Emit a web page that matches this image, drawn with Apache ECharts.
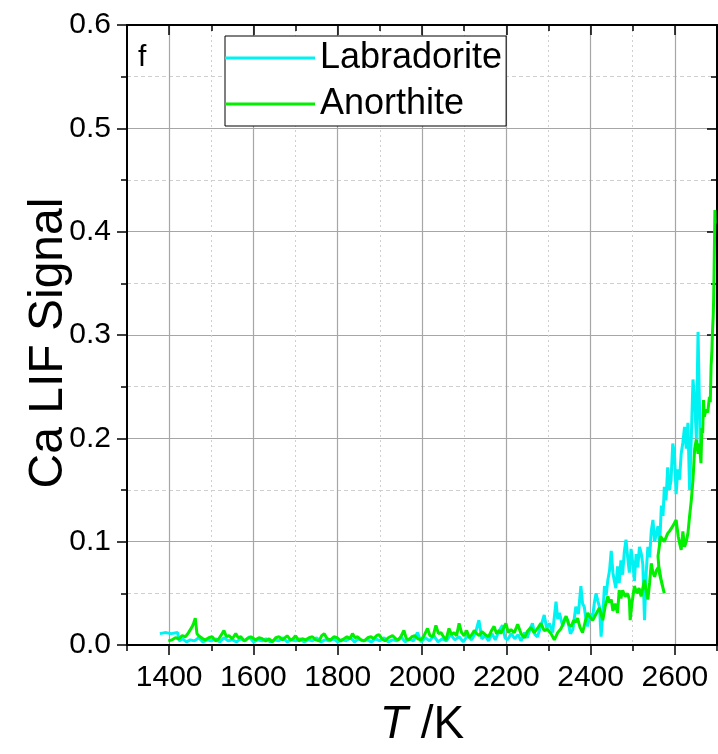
<!DOCTYPE html>
<html>
<head>
<meta charset="utf-8">
<script src="https://cdn.jsdelivr.net/npm/echarts@6/dist/echarts.min.js"></script>
<style>
  html, body { margin: 0; padding: 0; background: #fff; }
  #chart { width: 718px; height: 754px; }
</style>
</head>
<body>
<div id="chart"></div>
<script>
// Temperature grid (K) along the x axis; labelled every other tick
const xTicks = ['1300', '1400', '1500', '1600', '1700', '1800', '1900', '2000',
                '2100', '2200', '2300', '2400', '2500', '2600', '2700'];

// Ca LIF signal vs temperature, [T / K, signal]
const labradorite = [
  [1378,0.011],[1390,0.012],[1405,0.011],[1420,0.012],[1424,0.004],[1432,0.006],[1441,0.003],[1450,0.005],
  [1460,0.004],[1470,0.007],[1480,0.003],[1490,0.005],[1500,0.004],[1510,0.006],[1520,0.003],[1530,0.007],
  [1540,0.004],[1550,0.005],[1560,0.003],[1570,0.006],[1580,0.004],[1590,0.008],[1600,0.003],[1610,0.005],
  [1620,0.004],[1630,0.006],[1640,0.003],[1650,0.005],[1660,0.004],[1670,0.007],[1680,0.003],[1690,0.005],
  [1700,0.004],[1710,0.006],[1720,0.003],[1730,0.005],[1740,0.004],[1750,0.007],[1760,0.003],[1770,0.005],
  [1780,0.004],[1790,0.006],[1800,0.003],[1810,0.005],[1820,0.004],[1830,0.007],[1840,0.003],[1850,0.006],
  [1860,0.004],[1870,0.005],[1880,0.003],[1890,0.006],[1900,0.004],[1910,0.007],[1920,0.003],[1930,0.005],
  [1940,0.004],[1950,0.008],[1960,0.003],[1970,0.006],[1980,0.004],[1989,0.012],[1998,0.003],[2008,0.007],
  [2018,0.004],[2028,0.009],[2038,0.003],[2048,0.006],[2058,0.004],[2068,0.010],[2078,0.005],[2088,0.008],
  [2098,0.003],[2108,0.009],[2118,0.005],[2127,0.012],[2135,0.024],[2142,0.006],[2150,0.009],[2158,0.004],
  [2166,0.011],[2174,0.005],[2182,0.013],[2191,0.019],[2197,0.007],[2203,0.005],[2212,0.011],[2220,0.006],
  [2228,0.010],[2235,0.004],[2243,0.012],[2250,0.007],[2256,0.015],[2262,0.021],[2268,0.010],[2274,0.008],
  [2282,0.018],[2290,0.029],[2296,0.016],[2302,0.021],[2310,0.012],[2318,0.042],[2322,0.025],[2326,0.031],
  [2334,0.018],[2340,0.027],[2346,0.024],[2352,0.011],[2358,0.015],[2365,0.037],[2371,0.030],[2377,0.057],
  [2381,0.040],[2385,0.037],[2389,0.025],[2393,0.018],[2399,0.030],[2405,0.027],[2409,0.041],[2413,0.050],
  [2417,0.043],[2421,0.037],[2425,0.008],[2429,0.030],[2433,0.057],[2437,0.048],[2441,0.063],[2445,0.072],
  [2449,0.091],[2453,0.070],[2456,0.063],[2460,0.055],[2464,0.076],[2468,0.060],[2472,0.082],[2476,0.068],
  [2480,0.090],[2484,0.102],[2488,0.085],[2492,0.070],[2496,0.093],[2500,0.080],[2504,0.062],[2508,0.088],
  [2512,0.075],[2516,0.095],[2520,0.089],[2524,0.078],[2528,0.024],[2532,0.070],[2536,0.095],[2540,0.085],
  [2544,0.110],[2548,0.121],[2552,0.100],[2556,0.108],[2560,0.115],[2564,0.098],[2568,0.135],[2572,0.125],
  [2575,0.153],[2579,0.140],[2583,0.172],[2587,0.150],[2591,0.160],[2595,0.195],[2599,0.185],[2603,0.146],
  [2607,0.170],[2611,0.160],[2615,0.185],[2619,0.196],[2623,0.211],[2627,0.190],[2631,0.215],[2635,0.150],
  [2639,0.200],[2643,0.257],[2647,0.237],[2651,0.200],[2655,0.303],[2658,0.240],[2660,0.195]
];

const anorthite = [
  [1398,0.004],[1407,0.005],[1415,0.007],[1423,0.006],[1431,0.009],[1439,0.008],[1446,0.012],[1450,0.011],
  [1455,0.018],[1458,0.021],[1462,0.026],[1466,0.011],[1470,0.009],[1474,0.008],[1480,0.006],[1486,0.005],
  [1494,0.007],[1502,0.008],[1510,0.004],[1518,0.006],[1524,0.010],[1530,0.014],[1536,0.008],[1542,0.009],
  [1550,0.006],[1558,0.011],[1564,0.007],[1570,0.008],[1578,0.004],[1585,0.006],[1594,0.008],[1605,0.005],
  [1613,0.007],[1621,0.006],[1629,0.004],[1637,0.006],[1645,0.003],[1653,0.007],[1661,0.008],[1669,0.005],
  [1675,0.007],[1680,0.009],[1688,0.005],[1694,0.006],[1700,0.009],[1708,0.004],[1716,0.006],[1724,0.005],
  [1732,0.007],[1740,0.008],[1748,0.005],[1756,0.004],[1762,0.009],[1768,0.011],[1775,0.006],[1783,0.005],
  [1791,0.008],[1799,0.007],[1807,0.004],[1815,0.006],[1822,0.008],[1829,0.006],[1835,0.011],[1841,0.007],
  [1847,0.008],[1855,0.005],[1863,0.004],[1871,0.007],[1879,0.008],[1885,0.006],[1892,0.009],[1898,0.010],
  [1905,0.006],[1912,0.004],[1920,0.007],[1930,0.009],[1938,0.006],[1945,0.005],[1951,0.009],[1957,0.014],
  [1963,0.006],[1969,0.005],[1976,0.008],[1983,0.009],[1990,0.006],[1998,0.005],[2005,0.009],[2013,0.016],
  [2019,0.009],[2026,0.008],[2033,0.019],[2039,0.011],[2045,0.012],[2051,0.008],[2057,0.005],[2064,0.016],
  [2070,0.010],[2076,0.012],[2082,0.009],[2088,0.021],[2094,0.012],[2100,0.009],[2106,0.014],[2112,0.007],
  [2118,0.010],[2124,0.014],[2130,0.011],[2136,0.009],[2142,0.013],[2150,0.010],[2158,0.008],[2165,0.014],
  [2171,0.018],[2177,0.011],[2183,0.014],[2187,0.011],[2193,0.016],[2199,0.021],[2205,0.012],[2211,0.015],
  [2219,0.012],[2227,0.020],[2235,0.011],[2243,0.007],[2250,0.013],[2258,0.017],[2266,0.012],[2274,0.016],
  [2282,0.021],[2290,0.014],[2298,0.015],[2306,0.011],[2314,0.005],[2322,0.012],[2330,0.016],[2336,0.022],
  [2342,0.028],[2348,0.020],[2354,0.018],[2360,0.024],[2365,0.022],[2369,0.026],[2375,0.017],[2381,0.012],
  [2387,0.022],[2393,0.031],[2399,0.027],[2405,0.024],[2413,0.030],[2421,0.036],[2425,0.037],[2429,0.024],
  [2435,0.038],[2441,0.047],[2445,0.041],[2449,0.044],[2453,0.033],[2458,0.040],[2464,0.031],[2468,0.053],
  [2472,0.045],[2476,0.053],[2482,0.047],[2488,0.050],[2492,0.044],[2494,0.024],[2498,0.040],[2504,0.057],
  [2510,0.050],[2515,0.055],[2520,0.047],[2524,0.055],[2528,0.063],[2532,0.052],[2536,0.044],[2540,0.060],
  [2544,0.079],[2548,0.070],[2552,0.066],[2556,0.072],[2562,0.076],[2568,0.062],[2575,0.050],[2570,0.058],
  [2563,0.070],[2560,0.086],[2563,0.095],[2566,0.105],[2575,0.100],[2583,0.108],[2587,0.110],[2595,0.115],
  [2603,0.121],[2608,0.105],[2612,0.097],[2615,0.092],[2619,0.110],[2623,0.095],[2627,0.100],[2631,0.108],
  [2635,0.125],[2639,0.140],[2643,0.160],[2647,0.190],[2651,0.199],[2655,0.185],[2658,0.195],[2662,0.176],
  [2664,0.210],[2666,0.205],[2668,0.237],[2670,0.221],[2674,0.228],[2678,0.225],[2682,0.240],[2684,0.235],
  [2686,0.270],[2688,0.286],[2689,0.300],[2690,0.310],[2691,0.318],[2692,0.334],[2693,0.360],[2694,0.390],
  [2695,0.421],[2695.5,0.408]
];

const FONT = 'Liberation Sans, Arial, sans-serif';
const BLACK = '#000';
const MAJOR_GRID = '#a6a6a6';
const MINOR_GRID = '#cfcfcf';
const CYAN = '#00f2f2';
const GREEN = '#00f000';

const isMajor = (idx) => idx % 2 === 1;
const isMinor = (idx) => idx % 2 === 0;

const chart = echarts.init(document.getElementById('chart'), null, { renderer: 'canvas' });

chart.setOption({
  animation: false,
  backgroundColor: '#fff',
  textStyle: { fontFamily: FONT },
  title: {
    text: 'f',
    left: 138,
    top: 43,
    padding: 0,
    textStyle: { fontFamily: FONT, fontSize: 30, fontWeight: 'normal', color: BLACK }
  },
  legend: {
    orient: 'vertical',
    left: 225,
    top: 36,
    padding: [2, 4, 2, 0],
    itemGap: 6,
    itemWidth: 90,
    itemHeight: 3,
    icon: 'rect',
    borderColor: BLACK,
    borderWidth: 1,
    backgroundColor: '#fff',
    textStyle: { fontFamily: FONT, fontSize: 36, lineHeight: 40, color: BLACK },
    data: ['Labradorite', 'Anorthite']
  },
  grid: { left: 127, top: 25, width: 590, height: 620, containLabel: false },
  xAxis: [
    {
      // data axis
      type: 'value', min: 1300, max: 2700, show: false
    },
    {
      // bottom: minor ticks, labels, dotted minor grid
      type: 'category', position: 'bottom', data: xTicks, boundaryGap: false,
      axisLine: { show: true, lineStyle: { color: BLACK, width: 2 } },
      axisTick: { show: true, interval: 0, length: 6, lineStyle: { color: BLACK, width: 1.5 } },
      axisLabel: {
        show: true, interval: isMajor, margin: 18,
        fontFamily: FONT, fontSize: 30, color: BLACK
      },
      splitLine: { show: true, interval: isMinor, lineStyle: { color: MINOR_GRID, width: 1, type: [2, 3] } },
      name: '{i|T}{r| /K}',
      nameLocation: 'middle',
      nameGap: 57,
      nameTextStyle: {
        rich: {
          i: { fontFamily: FONT, fontSize: 46, fontStyle: 'italic', color: BLACK },
          r: { fontFamily: FONT, fontSize: 46, color: BLACK }
        }
      }
    },
    {
      // bottom: major ticks and solid grid
      type: 'category', position: 'bottom', data: xTicks, boundaryGap: false,
      axisLine: { show: false },
      axisTick: { show: true, interval: isMajor, length: 10, lineStyle: { color: BLACK, width: 1.5 } },
      axisLabel: { show: false },
      splitLine: { show: true, interval: isMajor, lineStyle: { color: MAJOR_GRID, width: 1.2 } }
    },
    {
      // top frame: minor ticks pointing in
      type: 'category', position: 'top', data: xTicks, boundaryGap: false,
      axisLine: { show: true, lineStyle: { color: BLACK, width: 2 } },
      axisTick: { show: true, inside: true, interval: 0, length: 6, lineStyle: { color: BLACK, width: 1.5 } },
      axisLabel: { show: false },
      splitLine: { show: false }
    },
    {
      // top frame: major ticks pointing in
      type: 'category', position: 'top', data: xTicks, boundaryGap: false,
      axisLine: { show: false },
      axisTick: { show: true, inside: true, interval: isMajor, length: 10, lineStyle: { color: BLACK, width: 1.5 } },
      axisLabel: { show: false },
      splitLine: { show: false }
    }
  ],
  yAxis: [
    {
      type: 'value', position: 'left', min: 0, max: 0.6, interval: 0.1,
      axisLine: { show: true, lineStyle: { color: BLACK, width: 2 } },
      axisTick: { show: true, length: 10, lineStyle: { color: BLACK, width: 1.5 } },
      minorTick: { show: true, splitNumber: 2, length: 6, lineStyle: { color: BLACK, width: 1.5 } },
      axisLabel: {
        margin: 16, fontFamily: FONT, fontSize: 30, color: BLACK,
        formatter: (v) => v.toFixed(1)
      },
      splitLine: { show: true, lineStyle: { color: MAJOR_GRID, width: 1.2 } },
      minorSplitLine: { show: true, lineStyle: { color: MINOR_GRID, width: 1, type: [4, 3] } },
      name: 'Ca LIF Signal',
      nameLocation: 'middle',
      nameGap: 54,
      nameMoveOverlap: false,
      nameRotate: 90,
      nameTextStyle: { fontFamily: FONT, fontSize: 48, color: BLACK, padding: [0, 16, 0, 0] }
    },
    {
      type: 'value', position: 'right', min: 0, max: 0.6, interval: 0.1,
      axisLine: { show: true, lineStyle: { color: BLACK, width: 2 } },
      axisTick: { show: true, inside: true, length: 10, lineStyle: { color: BLACK, width: 1.5 } },
      minorTick: { show: true, splitNumber: 2, length: 6, lineStyle: { color: BLACK, width: 1.5 } },
      axisLabel: { show: false },
      splitLine: { show: false }
    }
  ],
  series: [
    {
      name: 'Labradorite', type: 'line', xAxisIndex: 0, yAxisIndex: 0,
      data: labradorite, symbol: 'none', smooth: false,
      lineStyle: { color: CYAN, width: 3 },
      itemStyle: { color: CYAN },
      z: 3
    },
    {
      name: 'Anorthite', type: 'line', xAxisIndex: 0, yAxisIndex: 0,
      data: anorthite, symbol: 'none', smooth: false,
      lineStyle: { color: GREEN, width: 3 },
      itemStyle: { color: GREEN },
      z: 4
    }
  ]
});
</script>
</body>
</html>
